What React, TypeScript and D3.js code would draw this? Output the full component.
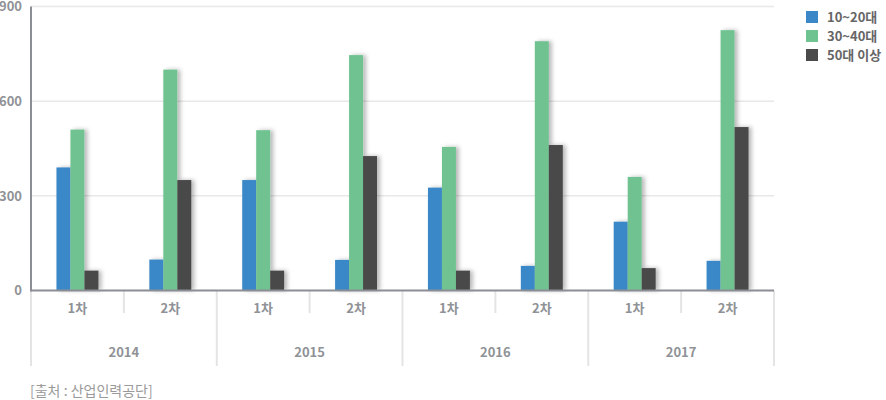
import React from 'react';
import * as d3 from 'd3';

// 데이터
const years = ['2014', '2015', '2016', '2017'];
const rounds = ['1차', '2차'];
const seriesNames = ['10~20대', '30~40대', '50대 이상'];
const seriesColors = ['#3a88c8', '#6fc391', '#4a4a4a'];
const age1020 = [390, 98, 350, 97, 326, 78, 218, 94];
const age3040 = [510, 700, 508, 746, 455, 790, 360, 825];
const age50 = [63, 350, 63, 426, 63, 461, 71, 518];
const yTicks = [0, 300, 600, 900];
const sourceText = '[출처 : 산업인력공단]';

const seriesValues = [age1020, age3040, age50];

const W = 886;
const H = 400;
const left = 31;
const right = 774;
const top = 6.5;
const bottom = 290.5;

const font = '"Noto Sans CJK KR", "Noto Sans", sans-serif';
const axisColor = '#8b8e94';
const labelColor = '#8f9296';
const dividerColor = '#e4e4e4';

const App: React.FC = () => {
  const cats = years.flatMap(y => rounds.map(r => `${y}-${r}`));

  const x0 = d3.scaleBand<string>().domain(cats).range([left, right]).paddingInner(0).paddingOuter(0);
  const x1 = d3.scaleBand<string>()
    .domain(seriesNames)
    .range([0, x0.bandwidth()])
    .paddingInner(0)
    .paddingOuter(1.82);
  const xYear = d3.scaleBand<string>().domain(years).range([left, right]).padding(0);
  const y = d3.scaleLinear().domain([0, 900]).range([bottom, top]);

  return (
    <div style={{ position: 'absolute', left: 0, top: 0 }}>
      <svg width={W} height={H} style={{ display: 'block', background: '#fff' }} fontFamily={font}>
        <defs>
          <filter id="barShadow" x="-20%" y="-5%" width="160%" height="110%">
            <feDropShadow dx="3" dy="0" stdDeviation="2" floodColor="#000" floodOpacity="0.28" />
          </filter>
        </defs>

        {/* 그리드 */}
        {yTicks.filter(t => t > 0).map(t => (
          <line key={t} x1={left} x2={right} y1={y(t)} y2={y(t)} stroke="#e8e8e8" strokeWidth={1.5} />
        ))}

        {/* 눈금 라벨 */}
        {yTicks.map(t => (
          <text key={t} x={22} y={y(t)} dy="0.36em" textAnchor="end" fontSize={13} fontWeight={700} fill={labelColor}>
            {t}
          </text>
        ))}

        {/* 막대 */}
        {seriesValues.map((vals, si) => (
          <g key={si} fill={seriesColors[si]} filter="url(#barShadow)">
            {vals.map((v, ci) => (
              <rect
                key={ci}
                x={x0(cats[ci])! + x1(seriesNames[si])!}
                y={y(v)}
                width={x1.bandwidth()}
                height={y(0) - y(v)}
              />
            ))}
          </g>
        ))}

        {/* 하단 구분선 */}
        {cats.map((c, i) => i % 2 === 1 ? (
          <line key={c} x1={x0(c)!} x2={x0(c)!} y1={bottom} y2={313} stroke={dividerColor} strokeWidth={2} />
        ) : null)}
        {years.map(yr => (
          <line key={yr} x1={xYear(yr)!} x2={xYear(yr)!} y1={bottom} y2={366} stroke={dividerColor} strokeWidth={2} />
        ))}
        <line x1={right} x2={right} y1={bottom} y2={366} stroke={dividerColor} strokeWidth={2} />

        {/* 축 */}
        <line x1={left} x2={left} y1={top} y2={bottom + 1} stroke={axisColor} strokeWidth={2} />
        <line x1={left} x2={right} y1={bottom} y2={bottom} stroke={axisColor} strokeWidth={2} />

        {/* 카테고리 라벨 */}
        {cats.map((c, i) => (
          <text key={c} x={x0(c)! + x0.bandwidth() / 2} y={308} dy="0.36em" textAnchor="middle" fontSize={13} fontWeight={700} fill={labelColor}>
            {rounds[i % 2]}
          </text>
        ))}
        {years.map(yr => (
          <text key={yr} x={xYear(yr)! + xYear.bandwidth() / 2} y={352} dy="0.36em" textAnchor="middle" fontSize={13} fontWeight={700} fill={labelColor}>
            {yr}
          </text>
        ))}

        {/* 범례 */}
        {seriesNames.map((s, i) => (
          <g key={s} transform={`translate(806, ${11 + i * 19})`}>
            <rect width={12} height={12} fill={seriesColors[i]} />
            <text x={21} y={6} dy="0.36em" fontSize={13} fontWeight={700} fill="#666">{s}</text>
          </g>
        ))}

        {/* 출처 */}
        <text x={30} y={391} dy="0.36em" fontSize={14} fill="#9a9a9a">{sourceText}</text>
      </svg>
    </div>
  );
};

export default App;
